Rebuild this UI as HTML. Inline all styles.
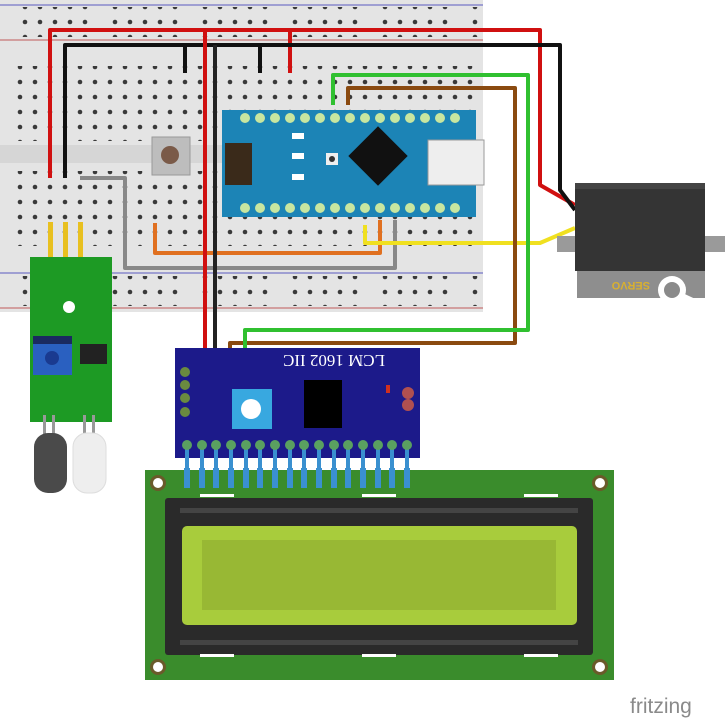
<!DOCTYPE html>
<html><head><style>
html,body{margin:0;padding:0;background:#fff;width:725px;height:720px;overflow:hidden}
</style></head><body>
<svg width="725" height="720" viewBox="0 0 725 720" xmlns="http://www.w3.org/2000/svg" font-family="Liberation Sans, sans-serif">
<defs>
<pattern id="h" x="13" y="0" width="15" height="15" patternUnits="userSpaceOnUse"><circle cx="7" cy="7" r="2.3" fill="#3a3a3a"/></pattern>
<pattern id="r" x="18" y="0" width="90" height="15" patternUnits="userSpaceOnUse">
<circle cx="7" cy="7" r="2.3" fill="#3a3a3a"/><circle cx="22" cy="7" r="2.3" fill="#3a3a3a"/><circle cx="37" cy="7" r="2.3" fill="#3a3a3a"/><circle cx="52" cy="7" r="2.3" fill="#3a3a3a"/><circle cx="67" cy="7" r="2.3" fill="#3a3a3a"/></pattern>
</defs>
<rect x="0" y="0" width="483" height="312" fill="#e4e4e4"/>
<rect x="0" y="145" width="483" height="18" fill="#d6d6d6"/>
<line x1="0" y1="5" x2="483" y2="5" stroke="#8888cc" stroke-width="1.5"/>
<line x1="0" y1="40" x2="483" y2="40" stroke="#cc8888" stroke-width="1.5"/>
<line x1="0" y1="273" x2="483" y2="273" stroke="#8888cc" stroke-width="1.5"/>
<line x1="0" y1="308" x2="483" y2="308" stroke="#cc8888" stroke-width="1.5"/>
<rect x="18" y="7" width="460" height="30" fill="url(#r)"/>
<rect x="18" y="276" width="460" height="30" fill="url(#r)"/>
<rect x="13" y="66" width="465" height="75" fill="url(#h)"/>
<rect x="13" y="171" width="465" height="75" fill="url(#h)"/>
<rect x="152" y="137" width="38" height="38" fill="#bdbdbd" stroke="#999"/>
<circle cx="170" cy="155" r="9" fill="#7a5a48"/>
<rect x="222" y="110" width="254" height="107" fill="#1c84b6"/>
<g fill="#c8e6a0">
<circle cx="245" cy="118" r="5"/><circle cx="260" cy="118" r="5"/><circle cx="275" cy="118" r="5"/><circle cx="290" cy="118" r="5"/><circle cx="305" cy="118" r="5"/><circle cx="320" cy="118" r="5"/><circle cx="335" cy="118" r="5"/><circle cx="350" cy="118" r="5"/><circle cx="365" cy="118" r="5"/><circle cx="380" cy="118" r="5"/><circle cx="395" cy="118" r="5"/><circle cx="410" cy="118" r="5"/><circle cx="425" cy="118" r="5"/><circle cx="440" cy="118" r="5"/><circle cx="455" cy="118" r="5"/>
<circle cx="245" cy="208" r="5"/><circle cx="260" cy="208" r="5"/><circle cx="275" cy="208" r="5"/><circle cx="290" cy="208" r="5"/><circle cx="305" cy="208" r="5"/><circle cx="320" cy="208" r="5"/><circle cx="335" cy="208" r="5"/><circle cx="350" cy="208" r="5"/><circle cx="365" cy="208" r="5"/><circle cx="380" cy="208" r="5"/><circle cx="395" cy="208" r="5"/><circle cx="410" cy="208" r="5"/><circle cx="425" cy="208" r="5"/><circle cx="440" cy="208" r="5"/><circle cx="455" cy="208" r="5"/>
</g>
<rect x="225" y="143" width="27" height="42" fill="#3a2a1a"/>
<rect x="357" y="135" width="42" height="42" fill="#111" transform="rotate(45 378 156)"/>
<rect x="428" y="140" width="56" height="45" fill="#eee" stroke="#999"/>
<rect x="292" y="133" width="12" height="6" fill="#fff"/><rect x="292" y="153" width="12" height="6" fill="#fff"/><rect x="292" y="174" width="12" height="6" fill="#fff"/>
<rect x="326" y="153" width="12" height="12" fill="#eee"/><circle cx="332" cy="159" r="3" fill="#333"/>
<g fill="none" stroke-width="4" stroke-linejoin="round">
<path d="M155 223 V253 H380 V220" stroke="#e07020"/>
<path d="M80 178 H125 V268 H395 V220" stroke="#888"/>
<path d="M365 225 V243 H540 L575 228" stroke="#f0e020"/>
<path d="M50 178 V30 H540 V185 L575 205" stroke="#d01010"/>
<path d="M290 30 V73" stroke="#d01010"/>
<path d="M65 178 V45 H560 V190 L575 210" stroke="#111"/>
<path d="M185 45 V73 M260 45 V73" stroke="#111"/>
<path d="M215 45 V410" stroke="#222"/>
<path d="M205 30 V400 H190" stroke="#d01010"/>
<path d="M348 105 V88 H515 V343 H230 V385 H185" stroke="#8a4a10"/>
<path d="M333 105 V75 H528 V330 H245 V375 H185" stroke="#30c030"/>
</g>
<rect x="557" y="236" width="168" height="16" fill="#9a9a9a"/>
<rect x="577" y="270" width="128" height="28" fill="#8e8e8e"/>
<text x="600" y="290" font-size="11" font-weight="bold" fill="#d8b030" transform="rotate(180 625 286)">SERVO</text>
<rect x="575" y="183" width="130" height="88" fill="#343434"/>
<rect x="575" y="183" width="130" height="6" fill="#444"/>
<path d="M668 290 L715 312" stroke="#fff" stroke-width="7" stroke-linecap="round"/>
<circle cx="672" cy="290" r="14" fill="#fff"/><circle cx="672" cy="290" r="8" fill="#8a8a8a"/>
<rect x="48" y="222" width="5" height="35" fill="#e8c020"/><rect x="63" y="222" width="5" height="35" fill="#e8c020"/><rect x="78" y="222" width="5" height="35" fill="#e8c020"/>
<rect x="30" y="257" width="82" height="165" fill="#1d9a24"/>
<circle cx="69" cy="307" r="6" fill="#fff"/>
<rect x="33" y="336" width="39" height="39" fill="#2a60c0"/><rect x="33" y="336" width="39" height="8" fill="#1a2a60"/>
<circle cx="52" cy="358" r="7" fill="#1a3a90"/>
<rect x="80" y="344" width="27" height="20" fill="#222"/>
<rect x="43" y="415" width="3" height="20" fill="#999"/><rect x="52" y="415" width="3" height="20" fill="#999"/>
<rect x="83" y="415" width="3" height="20" fill="#999"/><rect x="92" y="415" width="3" height="20" fill="#999"/>
<rect x="34" y="433" width="33" height="60" rx="14" fill="#4a4a4a"/>
<rect x="73" y="433" width="33" height="60" rx="14" fill="#eeeeee" stroke="#ddd"/>
<rect x="175" y="348" width="245" height="110" fill="#1c1a8a"/>
<text x="275" y="365" font-size="17" fill="#fff" font-family="Liberation Serif, serif" transform="rotate(180 330 360)">LCM 1602 IIC</text>
<rect x="232" y="389" width="40" height="40" fill="#38a8e0"/><circle cx="251" cy="409" r="10" fill="#fff"/>
<rect x="304" y="380" width="38" height="48" fill="#000"/>
<rect x="386" y="385" width="4" height="8" fill="#d03020"/>
<circle cx="408" cy="393" r="6" fill="#b05050"/><circle cx="408" cy="405" r="6" fill="#b05050"/>
<g fill="#6a8a40"><circle cx="185" cy="372" r="5"/><circle cx="185" cy="385" r="5"/><circle cx="185" cy="398" r="5"/><circle cx="185" cy="412" r="5"/></g>
<g stroke="#3a90d0" stroke-width="4">
<path d="M187 445V500M202 445V500M216 445V500M231 445V500M246 445V500M260 445V500M275 445V500M290 445V500M304 445V500M319 445V500M334 445V500M348 445V500M363 445V500M378 445V500M392 445V500M407 445V500"/>
</g>
<g fill="#5aa060"><circle cx="187" cy="445" r="5"/><circle cx="202" cy="445" r="5"/><circle cx="216" cy="445" r="5"/><circle cx="231" cy="445" r="5"/><circle cx="246" cy="445" r="5"/><circle cx="260" cy="445" r="5"/><circle cx="275" cy="445" r="5"/><circle cx="290" cy="445" r="5"/><circle cx="304" cy="445" r="5"/><circle cx="319" cy="445" r="5"/><circle cx="334" cy="445" r="5"/><circle cx="348" cy="445" r="5"/><circle cx="363" cy="445" r="5"/><circle cx="378" cy="445" r="5"/><circle cx="392" cy="445" r="5"/><circle cx="407" cy="445" r="5"/></g>
<rect x="145" y="470" width="469" height="210" fill="#3a8c2c"/>
<g fill="#6a5a2a"><circle cx="158" cy="483" r="8"/><circle cx="600" cy="483" r="8"/><circle cx="158" cy="667" r="8"/><circle cx="600" cy="667" r="8"/></g>
<g fill="#fff"><circle cx="158" cy="483" r="5"/><circle cx="600" cy="483" r="5"/><circle cx="158" cy="667" r="5"/><circle cx="600" cy="667" r="5"/></g>
<g fill="#3a90d0"><rect x="184" y="468" width="6" height="20"/><rect x="199" y="468" width="6" height="20"/><rect x="213" y="468" width="6" height="20"/><rect x="228" y="468" width="6" height="20"/><rect x="243" y="468" width="6" height="20"/><rect x="257" y="468" width="6" height="20"/><rect x="272" y="468" width="6" height="20"/><rect x="287" y="468" width="6" height="20"/><rect x="301" y="468" width="6" height="20"/><rect x="316" y="468" width="6" height="20"/><rect x="331" y="468" width="6" height="20"/><rect x="345" y="468" width="6" height="20"/><rect x="360" y="468" width="6" height="20"/><rect x="375" y="468" width="6" height="20"/><rect x="389" y="468" width="6" height="20"/><rect x="404" y="468" width="6" height="20"/></g>
<rect x="165" y="498" width="428" height="157" fill="#2a2a2a" rx="3"/>
<rect x="180" y="508" width="398" height="5" fill="#444"/><rect x="180" y="640" width="398" height="5" fill="#444"/>
<rect x="182" y="526" width="395" height="99" fill="#a8cc3c" rx="5"/>
<rect x="202" y="540" width="354" height="70" fill="#98b834"/>
<g fill="#fff"><rect x="200" y="494" width="34" height="3"/><rect x="362" y="494" width="34" height="3"/><rect x="524" y="494" width="34" height="3"/><rect x="200" y="654" width="34" height="3"/><rect x="362" y="654" width="34" height="3"/><rect x="524" y="654" width="34" height="3"/></g>
<text x="630" y="713" font-size="21" fill="#8a8a8a">fritzing</text>
</svg>
</body></html>
